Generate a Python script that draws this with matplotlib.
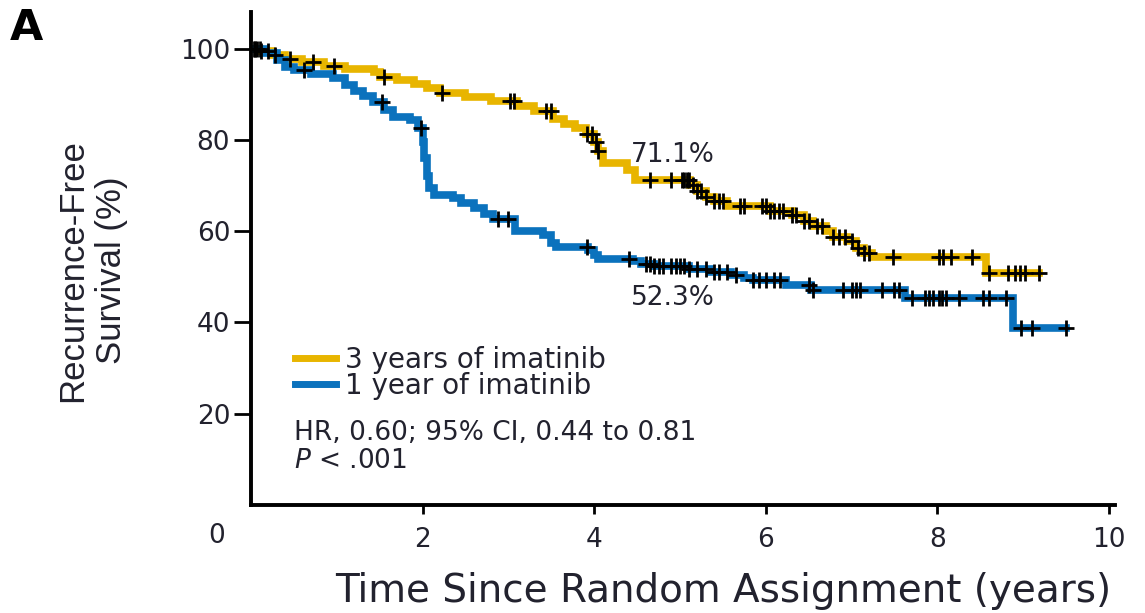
import numpy as np
import matplotlib.pyplot as plt
from matplotlib.lines import Line2D

# Kaplan-Meier steps: (years, % recurrence-free after the drop)
t_3y = [0, 0.10, 0.25, 0.40, 0.60, 0.85, 1.10, 1.43, 1.50, 1.70, 1.90, 2.05, 2.20, 2.50,
        2.80, 3.10, 3.30, 3.52, 3.65, 3.78, 3.90, 4.00, 4.05, 4.10, 4.38, 4.47, 5.12,
        5.20, 5.30, 5.40, 5.55, 6.05, 6.30, 6.45, 6.55, 6.70, 6.78, 6.95, 7.05, 7.15,
        7.24, 8.57, 9.19]
s_3y = [100, 99.5, 98.5, 97.8, 97.0, 96.2, 95.6, 94.8, 93.8, 93.0, 92.2, 91.3, 90.3, 89.4,
        88.4, 87.5, 86.4, 84.6, 83.5, 82.6, 81.3, 79.5, 77.5, 75.0, 73.4, 71.1, 70.0,
        68.8, 67.5, 66.5, 65.5, 64.4, 63.6, 62.3, 61.2, 60.0, 58.8, 57.8, 56.3, 55.3,
        54.4, 50.8, 50.8]

t_1y = [0, 0.15, 0.30, 0.40, 0.50, 0.70, 0.95, 1.10, 1.20, 1.30, 1.42, 1.55, 1.66, 1.85,
        1.95, 2.00, 2.02, 2.05, 2.08, 2.13, 2.35, 2.45, 2.60, 2.72, 2.82, 3.08, 3.40,
        3.50, 3.55, 3.93, 4.00, 4.05, 4.45, 4.55, 4.70, 5.10, 5.35, 5.60, 5.75, 5.85,
        6.24, 6.53, 7.62, 8.88, 9.50]
s_1y = [100, 99.0, 97.5, 96.0, 95.2, 94.5, 93.6, 92.0, 90.8, 89.5, 88.2, 86.5, 85.0, 84.4,
        82.5, 79.6, 76.0, 72.0, 69.5, 68.0, 67.2, 66.2, 65.0, 63.8, 62.6, 60.0, 59.2,
        57.5, 56.5, 55.8, 54.7, 54.0, 53.4, 52.8, 52.3, 51.8, 51.0, 50.3, 49.7, 49.2,
        48.1, 47.1, 45.3, 38.7, 38.7]

# censored observations (years)
cens_3y = [0.03, 0.07, 0.12, 0.20, 0.28, 0.45, 0.72, 0.97, 1.55, 2.23, 3.02, 3.07, 3.44,
           3.50, 3.92, 3.97, 4.02, 4.05, 4.65, 4.90, 5.02, 5.05, 5.08, 5.11, 5.15, 5.20,
           5.25, 5.30, 5.40, 5.45, 5.50, 5.70, 5.75, 5.95, 6.00, 6.05, 6.10, 6.15, 6.20,
           6.30, 6.35, 6.45, 6.50, 6.60, 6.65, 6.78, 6.85, 6.92, 7.00, 7.08, 7.15, 7.20,
           7.48, 8.02, 8.07, 8.16, 8.40, 8.60, 8.82, 8.90, 8.96, 9.02, 9.19]
cens_1y = [0.05, 0.10, 0.62, 1.53, 1.98, 2.88, 3.00, 3.92, 4.40, 4.60, 4.65, 4.70, 4.75,
           4.80, 4.90, 4.95, 5.00, 5.05, 5.10, 5.20, 5.30, 5.40, 5.45, 5.55, 5.65, 5.85,
           5.92, 6.00, 6.10, 6.17, 6.50, 6.55, 6.90, 7.00, 7.05, 7.10, 7.35, 7.50, 7.55,
           7.70, 7.86, 7.90, 7.95, 8.02, 8.05, 8.10, 8.25, 8.53, 8.60, 8.80, 8.98, 9.10, 9.50]

labels = ['3 years of imatinib', '1 year of imatinib']
colors = ['#E8B500', '#0B72BD']
five_year = ['71.1%', '52.3%']
stats_txt = 'HR, 0.60; 95% CI, 0.44 to 0.81'
p_txt = r'$P$ < .001'

xticks = [2, 4, 6, 8, 10]
yticks = [20, 40, 60, 80, 100]

plt.rcParams['font.family'] = ['DejaVu Sans']
txt_col = '#22222e'


def surv_at(t_steps, s_steps, times):
    idx = np.searchsorted(t_steps, times, side='right') - 1
    return np.asarray(s_steps)[idx]


fig = plt.figure(figsize=(11.45, 6.13), dpi=100)
ax = fig.add_axes([251 / 1145, 1 - 505 / 613, 864 / 1145, 493 / 613])

for t, s, c, col in [(t_3y, s_3y, cens_3y, colors[0]), (t_1y, s_1y, cens_1y, colors[1])]:
    ax.plot(t, s, drawstyle='steps-post', color=col, lw=5.5, solid_joinstyle='miter', zorder=2)
    ax.plot(c, surv_at(t, s, c), ls='none', marker='+', ms=12, mew=2, color='black', zorder=3)

ax.set_xlim(0, 10.07)
ax.set_ylim(0, 108)
ax.set_xticks(xticks)
ax.set_yticks(yticks)
ax.tick_params(axis='y', length=12, width=2, pad=3, labelsize=19, labelcolor=txt_col)
ax.tick_params(axis='x', length=6.5, width=2, pad=9, labelsize=19, labelcolor=txt_col)
for side in ['top', 'right']:
    ax.spines[side].set_visible(False)
for side in ['left', 'bottom']:
    ax.spines[side].set_linewidth(2.8)

# shared origin label
ax.text(-0.04, -0.0625, '0', transform=ax.transAxes, ha='center', va='center',
        fontsize=19, color=txt_col)

ax.set_xlabel('Time Since Random Assignment (years)', fontsize=28, color=txt_col,
              ha='center', va='center')
ax.xaxis.set_label_coords(0.547, -0.175)
ax.set_ylabel('Recurrence-Free\nSurvival (%)', fontsize=25, color=txt_col,
              family=['Liberation Sans Narrow', 'Liberation Sans'],
              ha='center', va='center', multialignment='center', linespacing=1.25)
ax.yaxis.set_label_coords(-0.184, 0.476)

ax.text(4.92, 76.7, five_year[0], fontsize=19, color=txt_col, ha='center', va='center')
ax.text(4.92, 45.3, five_year[1], fontsize=19, color=txt_col, ha='center', va='center')

handles = [Line2D([], [], color=col, lw=5) for col in colors]
ax.legend(handles, labels, loc='upper left', bbox_to_anchor=(0.0385, 0.346), frameon=False,
          fontsize=20, handlelength=1.45, handletextpad=0.35, labelspacing=-0.05,
          borderaxespad=0, labelcolor=txt_col)

ax.text(0.5, 15.8, stats_txt, fontsize=19, color=txt_col, ha='left', va='center')
ax.text(0.5, 9.7, p_txt, fontsize=19, color=txt_col, ha='left', va='center')

fig.text(10 / 1145, 1 - 28 / 613, 'A', fontsize=31, fontweight='bold', color='black',
         ha='left', va='center')

fig.savefig('out.png', dpi=100)
